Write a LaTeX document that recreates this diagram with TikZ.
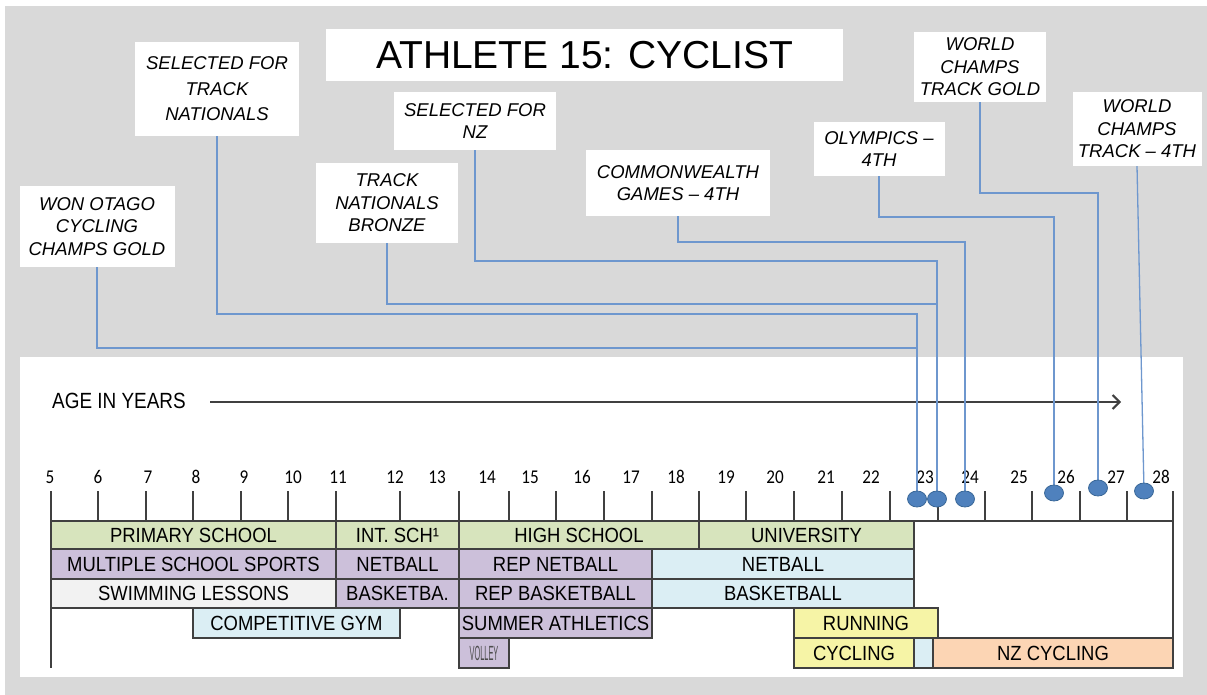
\documentclass[tikz,border=0pt]{standalone}
\usepackage{fontspec}
\setmainfont{Liberation Sans}
\newfontfamily\barfont[FakeStretch=0.9]{Liberation Sans}
\newfontfamily\agefont[FakeStretch=0.86]{Liberation Sans}
\newfontfamily\numfont[FakeStretch=0.88]{Carlito}
\usetikzlibrary{arrows.meta,shapes.geometric}
\definecolor{bggray}{HTML}{D9D9D9}
\definecolor{barline}{HTML}{404040}
\definecolor{conncol}{HTML}{6E97CE}
\definecolor{dotfill}{HTML}{4F81BD}
\definecolor{dotline}{HTML}{3A6898}
\definecolor{cgreen}{HTML}{D7E4BD}
\definecolor{cpurple}{HTML}{CCC0DA}
\definecolor{clgray}{HTML}{F2F2F2}
\definecolor{cblue}{HTML}{DBEEF4}
\definecolor{cyellow}{HTML}{F6F4A6}
\definecolor{cpeach}{HTML}{FCD5B4}
\tikzset{
  lbl/.style={fill=white, inner sep=0pt, align=center,
    font=\itshape\fontsize{18.5}{22.5}\selectfont},
  conn/.style={draw=conncol, line width=1.3pt},
  dot/.style={ellipse, fill=dotfill, draw=dotline, line width=0.8pt,
    minimum width=19pt, minimum height=16pt, inner sep=0pt},
  bar/.style={draw=barline, line width=1.3pt},
  bt/.style={inner sep=0pt, font=\barfont\fontsize{20.5}{22}\selectfont},
  tick/.style={draw=barline, line width=1.3pt},
  num/.style={inner sep=0pt, font=\numfont\fontsize{19.5}{20}\selectfont, text=black}
}
\newcommand\tbar[7]{%
  \draw[bar,fill=#5] (#1,#2) rectangle (#3,#4);
  \node[bt] (#7) at ({(#1+#3)/2},{(#2+#4)/2}) {#6};}
\begin{document}
\begin{tikzpicture}[x=1pt,y=-1pt]
\useasboundingbox (0,0) rectangle (1207,695);
% backgrounds
\fill[bggray] (5,6) rectangle (1207,695);
\fill[white] (20,357) rectangle (1183,677);
% title
\node[fill=white, minimum width=517pt, minimum height=52pt, inner sep=0pt,
  font=\fontsize{39}{42}\selectfont] (title) at (584.5,55) {ATHLETE 15: CYCLIST};
% label boxes
\node[lbl, minimum width=155pt, minimum height=81pt] (A) at (97,226.5) {WON OTAGO\\CYCLING\\CHAMPS GOLD};
\node[lbl, minimum width=164pt, minimum height=94pt, font=\itshape\fontsize{18.5}{25.5}\selectfont] (B) at (217,89) {SELECTED FOR\\TRACK\\NATIONALS};
\node[lbl, minimum width=142pt, minimum height=80pt] (C) at (387,203) {TRACK\\NATIONALS\\BRONZE};
\node[lbl, minimum width=162pt, minimum height=58pt] (D) at (475,121) {SELECTED FOR\\NZ};
\node[lbl, minimum width=184pt, minimum height=66pt] (E) at (678,183) {COMMONWEALTH\\GAMES – 4TH};
\node[lbl, minimum width=131pt, minimum height=54pt] (F) at (879,149) {OLYMPICS –\\4TH};
\node[lbl, minimum width=132pt, minimum height=70pt] (G) at (980,67) {WORLD\\CHAMPS\\TRACK GOLD};
\node[lbl, minimum width=129pt, minimum height=74pt] (H) at (1137,129) {WORLD\\CHAMPS\\TRACK – 4TH};
% dot positions
\coordinate (d1) at (917,499);
\coordinate (d2) at (937,499);
\coordinate (d3) at (965,499);
\coordinate (d4) at (1054,493);
\coordinate (d5) at (1098,488);
\coordinate (d6) at (1144,491);
% connector levels
\coordinate (yA) at (0,348);
\coordinate (yB) at (0,314);
\coordinate (yC) at (0,304);
\coordinate (yD) at (0,261);
\coordinate (yE) at (0,242);
\coordinate (yF) at (0,217);
\coordinate (yG) at (0,193);
% axis arrow
\node[inner sep=0pt, anchor=west, font=\agefont\fontsize{22}{24}\selectfont] (age) at (52,401) {AGE IN YEARS};
\coordinate (arrS) at (210,402);
\coordinate (arrE) at (1121,402);
\draw[draw=barline, line width=2pt, -{Straight Barb[length=7pt,width=14pt,line width=2pt]}] (arrS) -- (arrE);
% ticks
\draw[tick] (51,521) -- (1173,521);
\draw[tick] (51,491) -- (51,668);
\draw[tick] (1173,491) -- (1173,668);
\foreach \x in {98,146,193,241,288,336,400,459,509,556,604,652,699,746,794,842,890,938,985,1032,1080,1127}
  \draw[tick] (\x,491) -- (\x,521);
\foreach \lx/\n in {50/5,98/6,148/7,196/8,244/9,293/10,338/11,395/12,437/13,487/14,530/15,582/16,631/17,676/18,726/19,775/20,826/21,871/22,925/23,970/24,1019/25,1066/26,1116/27,1161/28}
  \node[num] (n\n) at (\lx,477) {\n};
% bars row 1
\tbar{51}{521}{336}{549}{cgreen}{PRIMARY SCHOOL}{b11}
\tbar{336}{521}{459}{549}{cgreen}{INT. SCH¹}{b12}
\tbar{459}{521}{699}{549}{cgreen}{HIGH SCHOOL}{b13}
\tbar{699}{521}{914}{549}{cgreen}{UNIVERSITY}{b14}
% row 2
\tbar{51}{549}{336}{579}{cpurple}{MULTIPLE SCHOOL SPORTS}{b21}
\tbar{336}{549}{459}{579}{cpurple}{NETBALL}{b22}
\tbar{459}{549}{652}{579}{cpurple}{REP NETBALL}{b23}
\tbar{652}{549}{914}{579}{cblue}{NETBALL}{b24}
% row 3
\tbar{51}{579}{336}{608}{clgray}{SWIMMING LESSONS}{b31}
\tbar{336}{579}{459}{608}{cpurple}{BASKETBA.}{b32}
\tbar{459}{579}{652}{608}{cpurple}{REP BASKETBALL}{b33}
\tbar{652}{579}{914}{608}{cblue}{BASKETBALL}{b34}
% row 4
\tbar{193}{608}{400}{638}{cblue}{COMPETITIVE GYM}{b41}
\tbar{459}{608}{652}{638}{cpurple}{SUMMER ATHLETICS}{b42}
\tbar{794}{608}{938}{638}{cyellow}{RUNNING}{b43}
% row 5
\tbar{459}{638}{509}{668}{cpurple}{\scalebox{0.4}[1]{\color{black!70}VOLLEY}}{b51}
\tbar{794}{638}{914}{668}{cyellow}{CYCLING}{b52}
\tbar{914}{638}{933}{668}{cblue}{}{b53}
\tbar{933}{638}{1173}{668}{cpeach}{NZ CYCLING}{b54}
% connectors
\draw[conn] (A.south) |- (yA -| d1) -- (d1);
\draw[conn] (B.south) |- (yB -| d1) -- (d1);
\draw[conn] (C.south) |- (yC -| d2) -- (d2);
\draw[conn] (D.south) |- (yD -| d2) -- (d2);
\draw[conn] (E.south) |- (yE -| d3) -- (d3);
\draw[conn] (F.south) |- (yF -| d4) -- (d4);
\draw[conn] (G.south) |- (yG -| d5) -- (d5);
\draw[conn] (H.south) -- (d6);
% dots on top
\foreach \d in {d1,d2,d3,d4,d5,d6}
  \node[dot] (\d m) at (\d) {};
\end{tikzpicture}
\end{document}
